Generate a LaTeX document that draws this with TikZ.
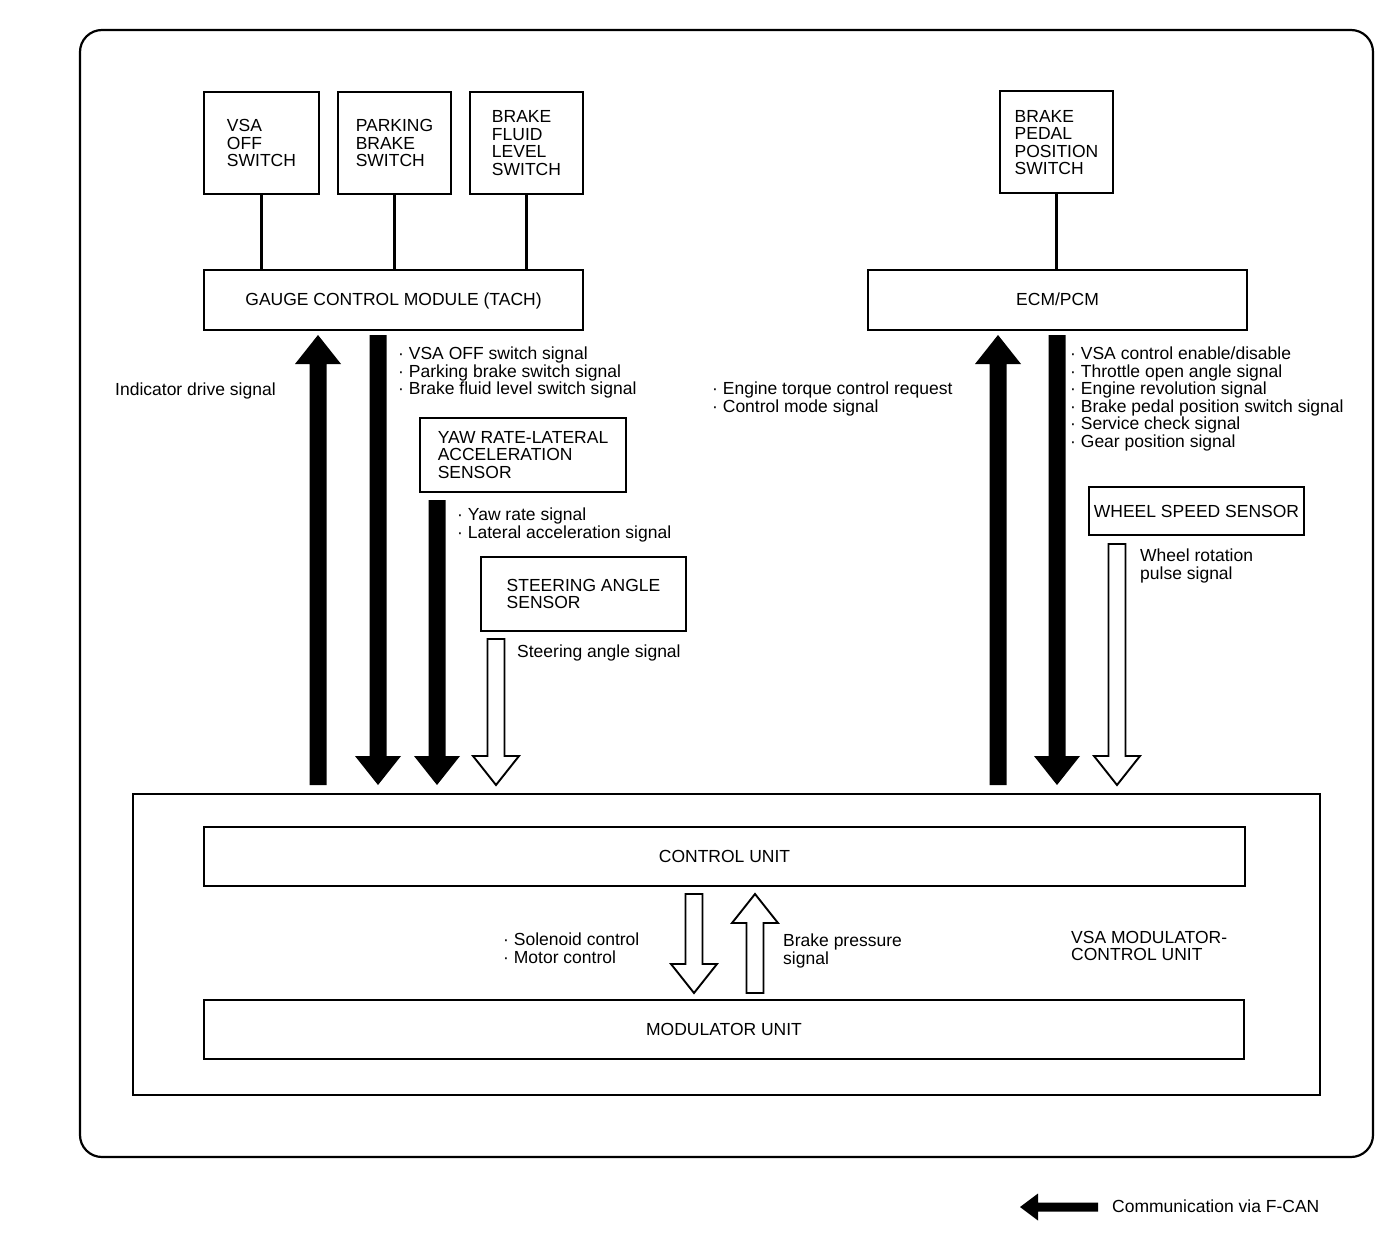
\documentclass[tikz,border=0pt]{standalone}
\usepackage{fontspec}
\setmainfont{Liberation Sans}
\definecolor{ink}{RGB}{0,0,0}
\newcommand{\sigfont}{\fontsize{17.5}{17.6}\selectfont}
\tikzset{
	unitbox/.style={draw=ink, line width=2pt, inner sep=0pt, align=left},
	linebox/.style={unitbox, text depth=0pt},
	sigtext/.style={anchor=north west, align=left, inner sep=0pt},
	wire/.style={draw=ink, line width=2.2pt},
	canarrow/.style={fill=ink},
	hwarrow/.style={fill=white, draw=ink, line width=1.9pt, line join=miter},
}
\newcommand{\blockarrow}[4][canarrow]{%
	\path[#1] ([xshift=-8.5pt]#2) -- ([xshift=-8.5pt,yshift=#4*29pt]#3) -- ([xshift=-23pt,yshift=#4*29pt]#3) -- (#3) -- ([xshift=23pt,yshift=#4*29pt]#3) -- ([xshift=8.5pt,yshift=#4*29pt]#3) -- ([xshift=8.5pt]#2) -- cycle;}

\begin{document}
\begin{tikzpicture}[x=1pt, y=-1pt, font=\sigfont]
	\useasboundingbox (0,0) rectangle (1392,1252);
	\node[unitbox, rounded corners=22pt, line width=2.2pt, minimum width=1293pt, minimum height=1127pt] (frame) at (726.5,593.5) {};

	\node[unitbox, minimum width=115pt, minimum height=102pt] (vsaoff) at (261.5,143) {VSA\\OFF\\SWITCH};
	\node[unitbox, minimum width=113pt, minimum height=102pt] (pkbrake) at (394.5,143) {PARKING\\BRAKE\\SWITCH};
	\node[unitbox, minimum width=113pt, minimum height=102pt] (fluid) at (526.5,143) {BRAKE\\FLUID\\LEVEL\\SWITCH};
	\node[unitbox, minimum width=113pt, minimum height=102pt] (bpp) at (1056.5,142.5) {BRAKE\\PEDAL\\POSITION\\SWITCH};
	\node[linebox, minimum width=379pt, minimum height=60pt] (gcm) at (393.5,299.5) {GAUGE CONTROL MODULE (TACH)};
	\node[linebox, minimum width=379pt, minimum height=60pt] (ecm) at (1057.5,299.5) {ECM/PCM};
	\node[unitbox, minimum width=206pt, minimum height=74pt] (yaw) at (523,455) {YAW RATE-LATERAL\\ACCELERATION\\SENSOR};
	\node[unitbox, minimum width=205pt, minimum height=74pt] (steer) at (583.5,594) {STEERING ANGLE\\SENSOR};
	\node[linebox, minimum width=215pt, minimum height=48pt] (wheel) at (1196.5,511) {WHEEL SPEED SENSOR};
	\node[unitbox, minimum width=1187pt, minimum height=301pt] (vsamod) at (726.5,944.5) {};
	\node[linebox, minimum width=1041pt, minimum height=59pt] (cu) at (724.5,856.5) {CONTROL UNIT};
	\node[linebox, minimum width=1040pt, minimum height=59pt] (mu) at (724,1029.5) {MODULATOR UNIT};

	\draw[wire] (vsaoff.south) -- (vsaoff.south |- gcm.north);
	\draw[wire] (pkbrake.south) -- (pkbrake.south |- gcm.north);
	\draw[wire] (fluid.south) -- (fluid.south |- gcm.north);
	\draw[wire] (bpp.south) -- (bpp.south |- ecm.north);

	\coordinate (indtail) at (318,785);
	\coordinate (indtip) at (318,335);
	\coordinate (gcmtail) at (378,335);
	\coordinate (gcmtip) at (378,785);
	\coordinate (yawtail) at (437,500);
	\coordinate (yawtip) at (437,785);
	\coordinate (strtail) at (496,639);
	\coordinate (strtip) at (496,785);
	\coordinate (engtail) at (998,785);
	\coordinate (engtip) at (998,335);
	\coordinate (ecmtail) at (1057,335);
	\coordinate (ecmtip) at (1057,785);
	\coordinate (whltail) at (1117,544);
	\coordinate (whltip) at (1117,785);
	\coordinate (soltail) at (694,894);
	\coordinate (soltip) at (694,993);
	\coordinate (prstail) at (755,993);
	\coordinate (prstip) at (755,894);

	\blockarrow{indtail}{indtip}{-1}
	\blockarrow{gcmtail}{gcmtip}{1}
	\blockarrow{yawtail}{yawtip}{1}
	\blockarrow[hwarrow]{strtail}{strtip}{1}
	\blockarrow{engtail}{engtip}{-1}
	\blockarrow{ecmtail}{ecmtip}{1}
	\blockarrow[hwarrow]{whltail}{whltip}{1}
	\blockarrow[hwarrow]{soltail}{soltip}{1}
	\blockarrow[hwarrow]{prstail}{prstip}{-1}

	\node[sigtext] (indsig) at (115,382.7) {Indicator drive signal};
	\node[sigtext] (gcmsig) at (398,346.7) {· VSA OFF switch signal\\· Parking brake switch signal\\· Brake fluid level switch signal};
	\node[sigtext] (yawsig) at (457,507.7) {· Yaw rate signal\\· Lateral acceleration signal};
	\node[sigtext] (strsig) at (517,644.7) {Steering angle signal};
	\node[sigtext] (engsig) at (712,381.7) {· Engine torque control request\\· Control mode signal};
	\node[sigtext] (ecmsig) at (1070,346.7) {· VSA control enable/disable\\· Throttle open angle signal\\· Engine revolution signal\\· Brake pedal position switch signal\\· Service check signal\\· Gear position signal};
	\node[sigtext] (whlsig) at (1140,548.7) {Wheel rotation\\pulse signal};
	\node[sigtext] (solsig) at (503,932.7) {· Solenoid control\\· Motor control};
	\node[sigtext] (prssig) at (783,933.7) {Brake pressure\\signal};
	\node[sigtext] (modname) at (1071,930.7) {VSA MODULATOR-\\CONTROL UNIT};

	\coordinate (legtip) at (1020,1207);
	\coordinate (legtail) at (1098,1207);
	\fill[canarrow] (legtip) -- ([xshift=18pt,yshift=13.5pt]legtip) -- ([xshift=18pt,yshift=4.5pt]legtip) -- ([yshift=4.5pt]legtail) -- ([yshift=-4.5pt]legtail) -- ([xshift=18pt,yshift=-4.5pt]legtip) -- ([xshift=18pt,yshift=-13.5pt]legtip) -- cycle;
	\node[sigtext] (legtext) at (1112,1199.7) {Communication via F-CAN};
\end{tikzpicture}
\end{document}
